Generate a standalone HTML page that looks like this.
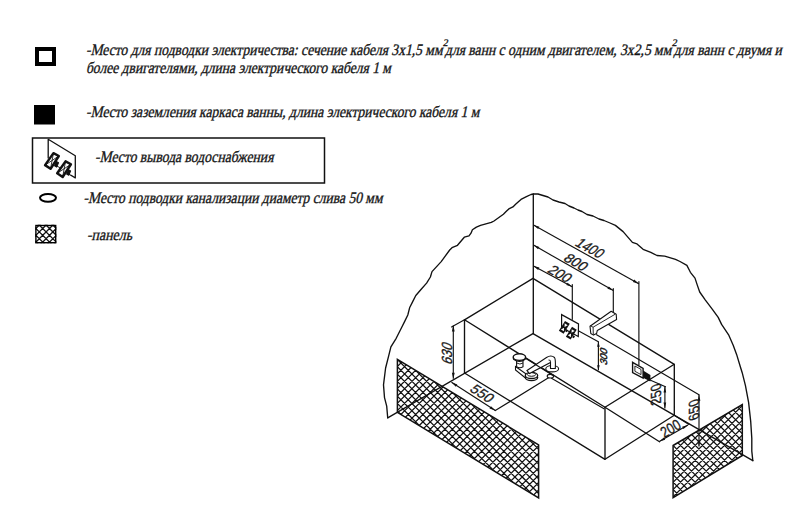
<!DOCTYPE html>
<html><head><meta charset="utf-8">
<style>
html,body{margin:0;padding:0;background:#fff;width:800px;height:519px;overflow:hidden}
svg{display:block}
.t{font-family:"Liberation Serif",serif;font-style:normal;font-size:16px;fill:#151515;stroke:#151515;stroke-width:0.35}
.d{font-family:"Liberation Sans",sans-serif;font-size:14px;fill:#1a1a1a;stroke:#1a1a1a;stroke-width:0.3}
</style></head><body>
<svg width="800" height="519" viewBox="0 0 800 519">


<!-- LEGEND -->
<rect x="37" y="49" width="17" height="15" fill="none" stroke="#000" stroke-width="4"/>
<rect x="34" y="105" width="21" height="19.5" fill="#000"/>
<rect x="32.5" y="138" width="292" height="45" fill="none" stroke="#111" stroke-width="1.5"/>
<!-- water icon -->
<g fill="none" stroke="#111" stroke-linejoin="round">
<path d="M48.2,158.5 L48.2,139.3 L75.3,155.7 L75.3,177.9 L70.5,175" stroke-width="1.3"/>
<g transform="translate(51.98,160.78) scale(0.9) translate(-51.98,-160.78)">
<path d="M53.6,152.3 L59.6,155.5 L50.4,169.7 L44.3,165.6 Z" stroke-width="2.7"/>
<path d="M53.6,152.3 L50.4,169.7 M59.6,155.5 L44.3,165.6" stroke-width="0.95"/>
<path d="M56.4,161.2 L59.2,163 L57.2,167.8 L54.4,166" fill="#111" stroke-width="1.2"/>
<path d="M56.5,166.2 L61,168.5" stroke-width="1"/>
</g>
<g transform="translate(12.1,8.2) translate(51.98,160.78) scale(0.9) translate(-51.98,-160.78)">
<path d="M53.6,152.3 L59.6,155.5 L50.4,169.7 L44.3,165.6 Z" stroke-width="2.7"/>
<path d="M53.6,152.3 L50.4,169.7 M59.6,155.5 L44.3,165.6" stroke-width="0.95"/>
<path d="M56.4,161.2 L59.2,163 L57.2,167.8 L54.4,166" fill="#111" stroke-width="1.2"/>
<path d="M56.5,166.2 L61,168.5" stroke-width="1"/>
</g>

</g>
<ellipse cx="48" cy="197.8" rx="8" ry="3.9" fill="none" stroke="#000" stroke-width="2"/>
<clipPath id="hs"><polygon points="35.3,224.8 56.3,224.8 56.3,243.3 35.3,243.3"/></clipPath><path clip-path="url(#hs)" d="M3.06,222.80L25.56,245.30M9.85,222.80L32.35,245.30M16.64,222.80L39.14,245.30M23.42,222.80L45.92,245.30M30.21,222.80L52.71,245.30M37.00,222.80L59.50,245.30M43.79,222.80L66.29,245.30M50.58,222.80L73.08,245.30M57.36,222.80L79.86,245.30M64.15,222.80L86.65,245.30M28.04,222.80L5.54,245.30M34.82,222.80L12.32,245.30M41.61,222.80L19.11,245.30M48.40,222.80L25.90,245.30M55.19,222.80L32.69,245.30M61.98,222.80L39.48,245.30M68.76,222.80L46.26,245.30M75.55,222.80L53.05,245.30M82.34,222.80L59.84,245.30M89.13,222.80L66.63,245.30" stroke="#111" stroke-width="1.3" fill="none"/>
<rect x="35.9" y="225.5" width="19.8" height="17.2" fill="none" stroke="#000" stroke-width="1.4"/>

<text class="t" textLength="356.6" lengthAdjust="spacingAndGlyphs" transform="translate(85.9,54.8) skewX(-12)" x="0" y="0">-Место для подводки электричества: сечение кабеля 3x1,5 мм</text>
<text class="t" style="font-size:10px;stroke-width:0.3" transform="translate(442.8,45.6) skewX(-12)" x="0" y="0">2</text>
<text class="t" textLength="226.3" lengthAdjust="spacingAndGlyphs" transform="translate(445.0,54.8) skewX(-12)" x="0" y="0">для ванн с одним двигателем, 3x2,5 мм</text>
<text class="t" style="font-size:10px;stroke-width:0.3" transform="translate(671.8,45.6) skewX(-12)" x="0" y="0">2</text>
<text class="t" textLength="108.1" lengthAdjust="spacingAndGlyphs" transform="translate(673.8,54.8) skewX(-12)" x="0" y="0">для ванн с двумя и</text>
<text class="t" textLength="305" lengthAdjust="spacingAndGlyphs" transform="translate(85.9,73.2) skewX(-12)" x="0" y="0">более двигателями, длина электрического кабеля 1 м</text>
<text class="t" textLength="393.3" lengthAdjust="spacingAndGlyphs" transform="translate(86.0,116.5) skewX(-12)" x="0" y="0">-Место заземления каркаса ванны, длина электрического кабеля 1 м</text>
<text class="t" textLength="178.4" lengthAdjust="spacingAndGlyphs" transform="translate(95.0,161.8) skewX(-12)" x="0" y="0">-Место вывода водоснабжения</text>
<text class="t" textLength="299" lengthAdjust="spacingAndGlyphs" transform="translate(83.5,202.5) skewX(-12)" x="0" y="0">-Место подводки канализации диаметр слива 50 мм</text>
<text class="t" textLength="45" lengthAdjust="spacingAndGlyphs" transform="translate(87.0,239.6) skewX(-12)" x="0" y="0">-панель</text>

<!-- panels -->
<clipPath id="hl"><polygon points="397.4,359.3 538.6,444.8 538.6,498 397.4,412.3"/></clipPath><path clip-path="url(#hl)" d="M248.12,357.30L390.82,500.00M255.48,357.30L398.18,500.00M262.83,357.30L405.53,500.00M270.18,357.30L412.88,500.00M277.54,357.30L420.24,500.00M284.89,357.30L427.59,500.00M292.25,357.30L434.95,500.00M299.60,357.30L442.30,500.00M306.95,357.30L449.65,500.00M314.31,357.30L457.01,500.00M321.66,357.30L464.36,500.00M329.01,357.30L471.71,500.00M336.37,357.30L479.07,500.00M343.72,357.30L486.42,500.00M351.08,357.30L493.78,500.00M358.43,357.30L501.13,500.00M365.78,357.30L508.48,500.00M373.14,357.30L515.84,500.00M380.49,357.30L523.19,500.00M387.85,357.30L530.55,500.00M395.20,357.30L537.90,500.00M402.55,357.30L545.25,500.00M409.91,357.30L552.61,500.00M417.26,357.30L559.96,500.00M424.62,357.30L567.32,500.00M431.97,357.30L574.67,500.00M439.32,357.30L582.02,500.00M446.68,357.30L589.38,500.00M454.03,357.30L596.73,500.00M461.39,357.30L604.09,500.00M468.74,357.30L611.44,500.00M476.09,357.30L618.79,500.00M483.45,357.30L626.15,500.00M490.80,357.30L633.50,500.00M498.15,357.30L640.85,500.00M505.51,357.30L648.21,500.00M512.86,357.30L655.56,500.00M520.22,357.30L662.92,500.00M527.57,357.30L670.27,500.00M534.92,357.30L677.62,500.00M542.28,357.30L684.98,500.00M549.63,357.30L692.33,500.00M391.85,357.30L249.15,500.00M399.20,357.30L256.50,500.00M406.55,357.30L263.85,500.00M413.91,357.30L271.21,500.00M421.26,357.30L278.56,500.00M428.62,357.30L285.92,500.00M435.97,357.30L293.27,500.00M443.32,357.30L300.62,500.00M450.68,357.30L307.98,500.00M458.03,357.30L315.33,500.00M465.39,357.30L322.69,500.00M472.74,357.30L330.04,500.00M480.09,357.30L337.39,500.00M487.45,357.30L344.75,500.00M494.80,357.30L352.10,500.00M502.15,357.30L359.45,500.00M509.51,357.30L366.81,500.00M516.86,357.30L374.16,500.00M524.22,357.30L381.52,500.00M531.57,357.30L388.87,500.00M538.92,357.30L396.22,500.00M546.28,357.30L403.58,500.00M553.63,357.30L410.93,500.00M560.99,357.30L418.29,500.00M568.34,357.30L425.64,500.00M575.69,357.30L432.99,500.00M583.05,357.30L440.35,500.00M590.40,357.30L447.70,500.00M597.76,357.30L455.06,500.00M605.11,357.30L462.41,500.00M612.46,357.30L469.76,500.00M619.82,357.30L477.12,500.00M627.17,357.30L484.47,500.00M634.53,357.30L491.83,500.00M641.88,357.30L499.18,500.00M649.23,357.30L506.53,500.00M656.59,357.30L513.89,500.00M663.94,357.30L521.24,500.00M671.29,357.30L528.59,500.00M678.65,357.30L535.95,500.00M686.00,357.30L543.30,500.00M693.36,357.30L550.66,500.00" stroke="#111" stroke-width="1.25" fill="none"/>
<path d="M397.4,359.3 L538.6,444.8 L538.6,498 L397.4,412.3 Z" fill="none" stroke="#111" stroke-width="1.5"/>
<clipPath id="hr"><polygon points="673.1,445.5 742.3,404.5 742.3,455.5 673.1,497.7"/></clipPath><path clip-path="url(#hr)" d="M564.01,402.50L661.21,499.70M571.37,402.50L668.57,499.70M578.72,402.50L675.92,499.70M586.08,402.50L683.28,499.70M593.43,402.50L690.63,499.70M600.78,402.50L697.98,499.70M608.14,402.50L705.34,499.70M615.49,402.50L712.69,499.70M622.85,402.50L720.05,499.70M630.20,402.50L727.40,499.70M637.55,402.50L734.75,499.70M644.91,402.50L742.11,499.70M652.26,402.50L749.46,499.70M659.62,402.50L756.82,499.70M666.97,402.50L764.17,499.70M674.32,402.50L771.52,499.70M681.68,402.50L778.88,499.70M689.03,402.50L786.23,499.70M696.39,402.50L793.59,499.70M703.74,402.50L800.94,499.70M711.09,402.50L808.29,499.70M718.45,402.50L815.65,499.70M725.80,402.50L823.00,499.70M733.15,402.50L830.35,499.70M740.51,402.50L837.71,499.70M747.86,402.50L845.06,499.70M664.52,402.50L567.32,499.70M671.88,402.50L574.68,499.70M679.23,402.50L582.03,499.70M686.58,402.50L589.38,499.70M693.94,402.50L596.74,499.70M701.29,402.50L604.09,499.70M708.65,402.50L611.45,499.70M716.00,402.50L618.80,499.70M723.35,402.50L626.15,499.70M730.71,402.50L633.51,499.70M738.06,402.50L640.86,499.70M745.42,402.50L648.22,499.70M752.77,402.50L655.57,499.70M760.12,402.50L662.92,499.70M767.48,402.50L670.28,499.70M774.83,402.50L677.63,499.70M782.19,402.50L684.99,499.70M789.54,402.50L692.34,499.70M796.89,402.50L699.69,499.70M804.25,402.50L707.05,499.70M811.60,402.50L714.40,499.70M818.95,402.50L721.75,499.70M826.31,402.50L729.11,499.70M833.66,402.50L736.46,499.70M841.02,402.50L743.82,499.70M848.37,402.50L751.17,499.70" stroke="#111" stroke-width="1.25" fill="none"/>
<path d="M673.1,445.5 L742.3,404.5 L742.3,455.5 L673.1,497.7 Z" fill="none" stroke="#111" stroke-width="1.5"/>
<!-- DRAWING -->
<g fill="none" stroke="#111" stroke-width="1.35" stroke-linejoin="round" stroke-linecap="round">
<!-- arc -->
<path d="M387.7,417.8 L386.7,406.1 L384.5,397.6 L383.5,384.9 L385.6,368 L388.8,355.3 L390.9,346.8 L396.2,338.3 L401.5,327.7 L404.7,321.4 L407.8,315 L409.6,307.8 L412.7,301.6 L415.8,295.5 L421.2,289.3 L426.6,283.1 L430.4,277 L432,271.6 L441.2,261.6 L449.7,250 L452,247.7 L457.5,245.3 L464.3,237.2 L469,235.9 L471,233.2 L472.4,229.8 L476.4,227.1 L480.5,225.4 L491.3,222.4 L494,221 L503.4,214.3 L506.1,211.6 L508.8,208.9 L512.9,206.9 L515.6,204.2 L521,199.4 L526.4,196.7 L531,194.5 L533.5,194 L538,194 L543,195.5 L548,197 L553,200 L559,202 L565,203.5 L569,206 L574,208 L578,210 L582,211.5 L587,214.5 L593,216 L599,219 L604,220.5 L610,223 L615.4,225.4 L623.1,231.6 L632.4,242.4 L637,243.9 L643.1,249.3 L650.8,252.4 L657,255.5 L664.7,256.2 L675.5,259.3 L680,261.5 L686.9,265.4 L690.4,272.3 L695,278.1 L697.3,285.1 L699.7,292 L705.4,300.1 L712.4,309.3 L718.2,317.4 L721.6,324.4 L728.6,334.8 L733.2,345.2 L736.6,354.4 L740.1,366 L742.2,372.7 L745.4,385.4 L748.6,402.4 L750.7,421.4 L751.8,438.4 L751.8,451.1 L752.8,460.6"/>
<!-- wall corner -->
<path d="M533.3,194 L533.3,333.6"/>
<!-- bath box -->
<path d="M464.5,319.8 L533,278.3 L674.3,364.3 L605,407.3 Z"/>
<path d="M464.5,319.8 L464.5,373 M605,407.3 L605,459.3 M674.3,364.3 L674.3,415.2"/>
<path d="M464.5,373 L605,459.3 L674.3,415.2"/>
<!-- floor lines -->
<path d="M387.7,417.8 L533,333.6 L752.8,460.6"/>
<!-- L-F extension -->
<path d="M605,407.3 L659.5,441.8"/>
<!-- extension lines -->
<g stroke-width="1.15">
<path d="M638.9,281.5 V365 M613.3,288.5 V312.5 M572.3,284.5 V319.3"/>
<path d="M464.5,319.8 L451.5,327"/>
<path d="M495.3,410.6 L550.5,376.5"/>
<path d="M578.3,330.8 L598.4,341.8"/>
<path d="M596.6,334.7 L699,394.8"/>
<path d="M650,380 L665.5,386.8"/>
<path d="M674.3,415.2 L689,424.5"/>
<path d="M551.5,378.3 L604,408.8"/>
</g>
</g>
<!-- valve plate -->
<path d="M561.6,314.6 L578.5,323.9 L578.3,336.6 L561.6,327.5 Z" fill="#fff" stroke="#111" stroke-width="1.2"/>
<g><polygon points="569.75,323.87 565.00,320.90 558.85,330.73 563.60,333.70" fill="#111"/><polygon points="567.68,325.17 564.73,323.33 564.55,326.91" fill="#fff"/><polygon points="563.87,331.27 560.92,329.43 564.05,327.69" fill="#fff"/><polygon points="566.37,329.28 568.03,330.31 566.80,332.28 565.14,331.24" fill="#111"/><polygon points="576.75,329.77 572.00,326.80 565.85,336.63 570.60,339.60" fill="#111"/><polygon points="574.68,331.07 571.73,329.23 571.55,332.81" fill="#fff"/><polygon points="570.87,337.17 567.92,335.33 571.05,333.59" fill="#fff"/><polygon points="573.37,335.18 575.03,336.21 573.80,338.18 572.14,337.14" fill="#111"/></g>
<!-- spout -->
<path d="M611.2,311.2 L616.2,314.3 L616.6,319.6 L597.3,330.4 L596.6,333.5 L593.5,335.1 L590.8,333.5 L590,326.2 Z" fill="#fff" stroke="#111" stroke-width="1.1" stroke-linejoin="round"/>
<path d="M590.5,325.8 L593.1,327.2 L615.2,314.2 M593.1,327.2 L593.3,334.8" fill="none" stroke="#111" stroke-width="0.9"/>
<!-- socket -->
<path d="M632.6,362.3 L643.1,368.3 L643.1,378 L632.6,372.6 Z" fill="#fff" stroke="#111" stroke-width="1.4"/>
<path d="M634.9,366 L641,369.4 L641,374.6 L634.9,371.3 Z" fill="none" stroke="#111" stroke-width="0.9"/>
<path d="M643.1,370.6 L650.4,375 L650.4,381.4 L643.1,377.8 Z" fill="#111"/>
<!-- drain -->
<g stroke="#111" stroke-width="1.1" fill="#fff">
<path d="M515.5,366.5 L525.5,373.5 L525.5,378 L515.5,370 Z"/>
<path d="M516.6,359.5 L516.6,366.8 Q520,368.8 523,366.8 L523,359.5 Z"/>
<path d="M516.6,363 Q520,365 523,363" fill="none" stroke-width="0.9"/>
<ellipse cx="531.5" cy="377.6" rx="6.2" ry="3.1" stroke-width="1.3"/>
<ellipse cx="531.5" cy="375.4" rx="6.2" ry="3.1" stroke-width="1.3"/>
<ellipse cx="531.5" cy="374.4" rx="4.2" ry="1.9" fill="none" stroke-width="1"/>
<path d="M513.2,357.5 L513.6,359.2 Q519.4,363.6 525.2,359.2 L525.6,357.5" stroke-width="1.2"/>
<ellipse cx="519.4" cy="357.1" rx="6.2" ry="3.3" stroke-width="1.4"/>
<ellipse cx="552.2" cy="368.7" rx="6.4" ry="3.2"/>
<path d="M527,370.5 L546.5,357.5 Q551,354.5 554.5,357.5 Q555.8,359.5 555.3,368.5 L550.5,368.5 L550.5,362.5 L529.5,373.5 Z"/>
<path d="M550.5,362.5 Q551,359.5 548.5,360" fill="none" stroke-width="0.9"/>
<ellipse cx="550.4" cy="376.2" rx="3.2" ry="1.8"/>
</g>
<path d="M526,358.4 L553,375.4" stroke="#111" stroke-width="1.2" fill="none"/>
<!-- dims -->
<g>
<path d="M533.5,225.0 L638.8,283.7" fill="none" stroke="#111" stroke-width="1.15"/><path d="M533.5,225.0 L539.4,226.7 L538.1,229.1 Z" fill="#111" stroke="none"/><path d="M638.8,283.7 L632.9,282.0 L634.2,279.6 Z" fill="#111" stroke="none"/>
<path d="M533.5,245.1 L613.3,290.6" fill="none" stroke="#111" stroke-width="1.15"/><path d="M533.5,245.1 L539.4,246.9 L538.0,249.2 Z" fill="#111" stroke="none"/><path d="M613.3,290.6 L607.4,288.8 L608.8,286.5 Z" fill="#111" stroke="none"/>
<path d="M533.5,265.9 L572.2,286.8" fill="none" stroke="#111" stroke-width="1.15"/><path d="M533.5,265.9 L539.4,267.6 L538.1,269.9 Z" fill="#111" stroke="none"/><path d="M572.2,286.8 L566.3,285.1 L567.6,282.8 Z" fill="#111" stroke="none"/>
<path d="M453.3,325.6 L453.3,378.8" fill="none" stroke="#111" stroke-width="1.15"/><path d="M453.3,325.6 L454.7,331.6 L451.9,331.6 Z" fill="#111" stroke="none"/><path d="M453.3,378.8 L451.9,372.8 L454.7,372.8 Z" fill="#111" stroke="none"/>
<path d="M451.5,382.3 L495.3,410.6" fill="none" stroke="#111" stroke-width="1.15"/><path d="M451.5,382.3 L457.3,384.4 L455.8,386.7 Z" fill="#111" stroke="none"/><path d="M495.3,410.6 L489.5,408.5 L491.0,406.2 Z" fill="#111" stroke="none"/>
<path d="M598.4,341.8 L598.4,370.2" fill="none" stroke="#111" stroke-width="1.15"/><path d="M598.4,341.8 L599.7,346.8 L597.1,346.8 Z" fill="#111" stroke="none"/><path d="M598.4,370.2 L597.1,365.2 L599.7,365.2 Z" fill="#111" stroke="none"/>
<path d="M664.9,386.5 L664.9,408.6" fill="none" stroke="#111" stroke-width="1.15"/><path d="M664.9,386.5 L666.2,392.5 L663.5,392.5 Z" fill="#111" stroke="none"/><path d="M664.9,408.6 L663.5,402.6 L666.2,402.6 Z" fill="#111" stroke="none"/>
<path d="M699.0,394.8 L699.0,446.5" fill="none" stroke="#111" stroke-width="1.15"/><path d="M699.0,394.8 L700.4,400.8 L697.6,400.8 Z" fill="#111" stroke="none"/><path d="M699.0,446.5 L697.6,440.5 L700.4,440.5 Z" fill="#111" stroke="none"/>
<path d="M659.3,441.6 L688.0,424.9" fill="none" stroke="#111" stroke-width="1.15"/><path d="M659.3,441.6 L663.8,437.4 L665.2,439.7 Z" fill="#111" stroke="none"/><path d="M688.0,424.9 L683.5,429.1 L682.1,426.8 Z" fill="#111" stroke="none"/>
</g>
<text class="d" style="font-size:14px" text-anchor="middle" transform="translate(590.4,248) rotate(29) skewX(-16) scale(0.92,1.05)" x="0" y="5.01">1400</text>
<text class="d" style="font-size:14px" text-anchor="middle" transform="translate(576.3,262.1) rotate(29.5) skewX(-16) scale(1,1)" x="0" y="5.01">800</text>
<text class="d" style="font-size:14px" text-anchor="middle" transform="translate(560.4,273.6) rotate(29) skewX(-16) scale(1,1)" x="0" y="5.01">200</text>
<text class="d" style="font-size:14px" text-anchor="middle" transform="translate(447,352.8) rotate(-90) skewX(-20) scale(0.9,1.05)" x="0" y="5.01">630</text>
<text class="d" style="font-size:14px" text-anchor="middle" transform="translate(482.5,393.3) rotate(33) skewX(-15) scale(1,1)" x="0" y="5.01">550</text>
<text class="d" style="font-size:9.8px;stroke-width:0.45" text-anchor="middle" transform="translate(603.7,356) rotate(-90) skewX(-22) scale(1,1)" x="0" y="3.58">300</text>
<text class="d" style="font-size:14px" text-anchor="middle" transform="translate(656,394.4) rotate(-90) skewX(18) scale(0.9,1.05)" x="0" y="5.01">250</text>
<text class="d" style="font-size:14px" text-anchor="middle" transform="translate(693.5,410) rotate(-90) skewX(18) scale(0.9,1.05)" x="0" y="5.01">650</text>
<text class="d" style="font-size:14px" text-anchor="middle" transform="translate(670.5,428.3) rotate(-30) skewX(0) scale(0.88,1.1)" x="0" y="5.01">200</text>
</svg>
</body></html>
